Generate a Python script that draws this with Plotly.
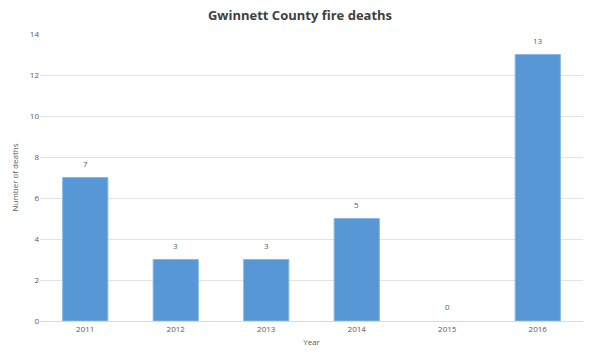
import plotly.graph_objects as go

years = ["2011", "2012", "2013", "2014", "2015", "2016"]
deaths = [7, 3, 3, 5, 0, 13]
y_ticks = [0, 2, 4, 6, 8, 10, 12, 14]

fig = go.Figure(go.Bar(
    x=years, y=deaths,
    marker=dict(color="#5797d6",
                line=dict(color="#8ab8e6", width=[0 if v == 0 else 1 for v in deaths])),
    width=0.5,
))
for i, v in enumerate(deaths):
    fig.add_annotation(x=i, y=v, xref="x", yref="y", text=str(v), showarrow=False, yanchor="bottom",
                       yshift=7, font=dict(size=8, color="#595959", family="Open Sans"))
fig.update_layout(
    width=600, height=359,
    margin=dict(l=40, r=17, t=34, b=38),
    paper_bgcolor="white", plot_bgcolor="white",
    title=dict(text="<b>Gwinnett County fire deaths</b>", x=0.5, xanchor="center", y=0.958, yanchor="middle",
               font=dict(size=13, color="#404040", family="Open Sans")),
    showlegend=False,
    font=dict(family="Open Sans", color="#595959", size=8),
)
fig.update_xaxes(type="category", categoryorder="array", categoryarray=years,
                 range=[-0.5, len(years) - 0.5],
                 title=dict(text="Year", font=dict(size=8, color="#595959"), standoff=6),
                 showgrid=False, showline=True, linecolor="#d9d9d9", ticks="",
                 tickfont=dict(size=8, color="#595959"))
fig.update_yaxes(title=dict(text="Number of deaths", font=dict(size=8, color="#595959"), standoff=10),
                 range=[0, 14], tickvals=y_ticks, showgrid=True, gridcolor="#e3e3e3",
                 zeroline=False, tickfont=dict(size=8, color="#595959"), ticks="")
fig.write_html("out.html", config={"displayModeBar": False},
               post_script="document.body.style.margin='0';")
